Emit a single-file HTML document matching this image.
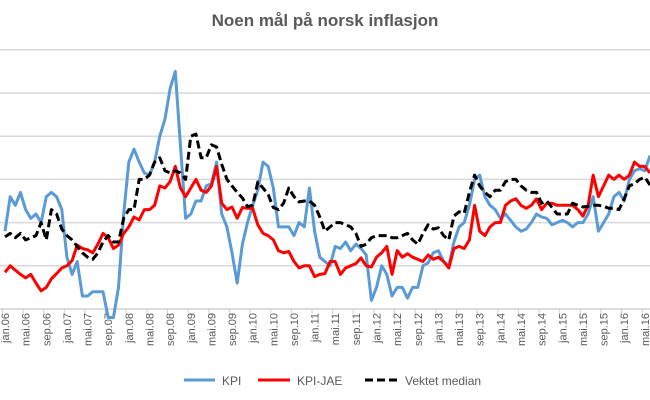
<!DOCTYPE html>
<html><head><meta charset="utf-8"><style>
html,body{margin:0;padding:0;background:#fff;}
svg{display:block;font-family:"Liberation Sans",sans-serif;}
</style></head><body>
<svg id="chart" width="650" height="400" viewBox="0 0 650 400">
<text x="325" y="26" text-anchor="middle" font-size="17" font-weight="bold" fill="#595959">Noen mål på norsk inflasjon</text>
<g id="grid"></g>
<g id="xaxis"></g>
<g id="series"></g>
<g>
<g><line x1="184" y1="380" x2="215" y2="380" stroke="#5B9BD5" stroke-width="3"/><text x="222" y="385" font-size="12" fill="#595959">KPI</text></g>
<g><line x1="258" y1="380" x2="290" y2="380" stroke="#FF0000" stroke-width="3"/><text x="297" y="385" font-size="12" fill="#595959">KPI-JAE</text></g>
<g><line x1="365" y1="380" x2="398" y2="380" stroke="#000" stroke-width="3" stroke-dasharray="8,4"/><text x="405" y="385" font-size="12" fill="#595959">Vektet median</text></g>
</g>
</svg>
<script>
const kpi = [1.8,2.6,2.4,2.7,2.3,2.1,2.2,2.0,2.6,2.7,
2.6,2.3,1.2,0.8,1.1,0.3,0.3,0.4,0.4,0.4,
-0.2,-0.2,0.5,2.2,3.4,3.7,3.4,3.15,3.1,3.4,
4.0,4.4,5.1,5.5,3.8,2.1,2.2,2.5,2.5,2.85,
2.9,3.4,2.2,1.9,1.3,0.6,1.5,2.0,2.4,2.75,
3.4,3.3,2.8,1.9,1.9,1.9,1.7,2.0,1.9,2.8,
1.8,1.2,1.1,1.0,1.45,1.4,1.55,1.35,1.5,1.4,
1.25,0.2,0.5,1.0,0.8,0.3,0.5,0.5,0.25,0.5,
0.5,1.0,1.07,1.3,1.35,1.1,1.0,1.55,1.9,2.0,
2.4,3.0,3.1,2.6,2.4,2.3,2.1,2.2,2.05,1.9,
1.8,1.85,2.0,2.2,2.13,2.1,1.95,2.0,2.05,2.0,
1.9,2.0,2.0,2.2,2.6,1.8,2.0,2.2,2.6,2.7,
2.5,3.0,3.2,3.25,3.2,3.55];
const kpiJae = [0.85,1.0,0.9,0.8,0.72,0.8,0.6,0.42,0.5,0.7,
0.82,0.95,1.0,1.12,1.48,1.4,1.37,1.3,1.5,1.75,
1.65,1.4,1.48,1.75,1.9,2.13,2.06,2.3,2.3,2.4,
2.85,2.8,2.95,3.3,2.8,2.6,2.8,3.0,2.75,2.7,
2.85,3.3,2.45,2.3,2.36,2.1,2.35,2.33,2.33,1.95,
1.75,1.7,1.6,1.35,1.3,1.33,1.1,0.95,1.0,1.0,
0.75,0.8,0.82,1.1,1.1,0.8,0.95,1.0,1.05,1.18,
1.0,0.97,1.2,1.3,1.45,0.8,1.35,1.2,1.28,1.2,
1.15,1.1,1.25,1.15,1.2,1.1,0.95,1.4,1.45,1.4,
1.6,2.4,1.8,1.7,1.9,2.0,2.0,2.4,2.5,2.55,
2.4,2.33,2.4,2.55,2.3,2.45,2.45,2.4,2.4,2.4,
2.4,2.3,2.15,2.4,3.1,2.6,2.85,3.1,3.0,3.1,
3.0,3.1,3.4,3.3,3.3,3.15];
const median = [1.67,1.75,1.65,1.75,1.6,1.65,1.7,2.0,1.6,2.3,
2.2,1.85,1.7,1.6,1.45,1.3,1.2,1.15,1.3,1.55,
1.7,1.55,1.55,2.1,2.3,2.3,3.0,3.0,3.1,3.4,
3.5,3.2,3.15,3.2,3.15,3.0,4.0,4.05,3.5,3.5,
3.8,3.75,3.35,3.0,2.85,2.7,2.57,2.37,2.4,2.94,
2.8,2.65,2.35,2.3,2.45,2.8,2.6,2.48,2.5,2.5,
2.4,2.13,1.8,1.9,2.0,2.0,1.95,1.9,1.75,1.45,
1.5,1.65,1.7,1.7,1.7,1.65,1.65,1.7,1.75,1.6,
1.5,1.75,1.95,1.85,1.88,1.7,1.6,2.15,2.25,2.22,
2.7,3.1,2.85,2.7,2.6,2.75,2.75,2.95,3.0,3.0,
2.85,2.75,2.7,2.7,2.45,2.5,2.35,2.2,2.2,2.2,
2.45,2.4,2.36,2.38,2.4,2.4,2.38,2.33,2.33,2.3,
2.55,2.85,2.9,3.0,3.05,2.87];
const monthNames = ["jan","mai","sep"];
const gridValues = [0,1,2,3,4,5,6];

const NS = "http://www.w3.org/2000/svg";
const X0 = 5, DX = 5.16, Y0 = 309, DY = 43.2;
function xScale(i){ return X0 + i*DX; }
function yScale(v){ return Y0 - v*DY; }
function mk(tag, attrs, parent){ const e=document.createElementNS(NS,tag); for(const k in attrs) e.setAttribute(k,attrs[k]); parent.appendChild(e); return e; }

const grid = document.getElementById('grid');
gridValues.forEach(v=>{
  const l = mk('line',{x1:0,x2:650,y1:yScale(v),y2:yScale(v),stroke:v===0?'#d0d0d0':'#d9d9d9','stroke-width':1.5},grid);
  
  
});

const xa = document.getElementById('xaxis');
const n = kpi.length;
for(let i=0;i<n;i+=4){
  const tx = xScale(i-0.5);
  const t = mk('line',{x1:tx,x2:tx,y1:Y0,y2:Y0+5,stroke:'#d0d0d0','stroke-width':1},xa);
  
  
  const yr = 6 + Math.floor(i/12);
  const label = monthNames[(i%12)/4] + '.' + (yr<10?'0'+yr:yr);
  const cx = xScale(i)+4;
  const txt = mk('text',{x:cx,y:313,'font-size':11,fill:'#595959','text-anchor':'end',transform:'rotate(-90 '+cx+' 313)'},xa);
  txt.textContent = label;
  
  
}

const sg = document.getElementById('series');
function drawLine(data, color, dash, name){
  const d = data.map((v,i)=>(i?'L':'M')+xScale(i).toFixed(1)+' '+yScale(v).toFixed(1)).join(' ');
  const p = mk('path',{d:d,fill:'none',stroke:color,'stroke-width':3,'stroke-linejoin':'round'},sg);
  if(dash) p.setAttribute('stroke-dasharray',dash);
  
  
}
drawLine(kpi,'#5B9BD5',null,'kpi-line');
drawLine(kpiJae,'#FF0000',null,'kpi-jae-line');
drawLine(median,'#000000','8,4','vektet-median-line');
</script>
</body></html>
